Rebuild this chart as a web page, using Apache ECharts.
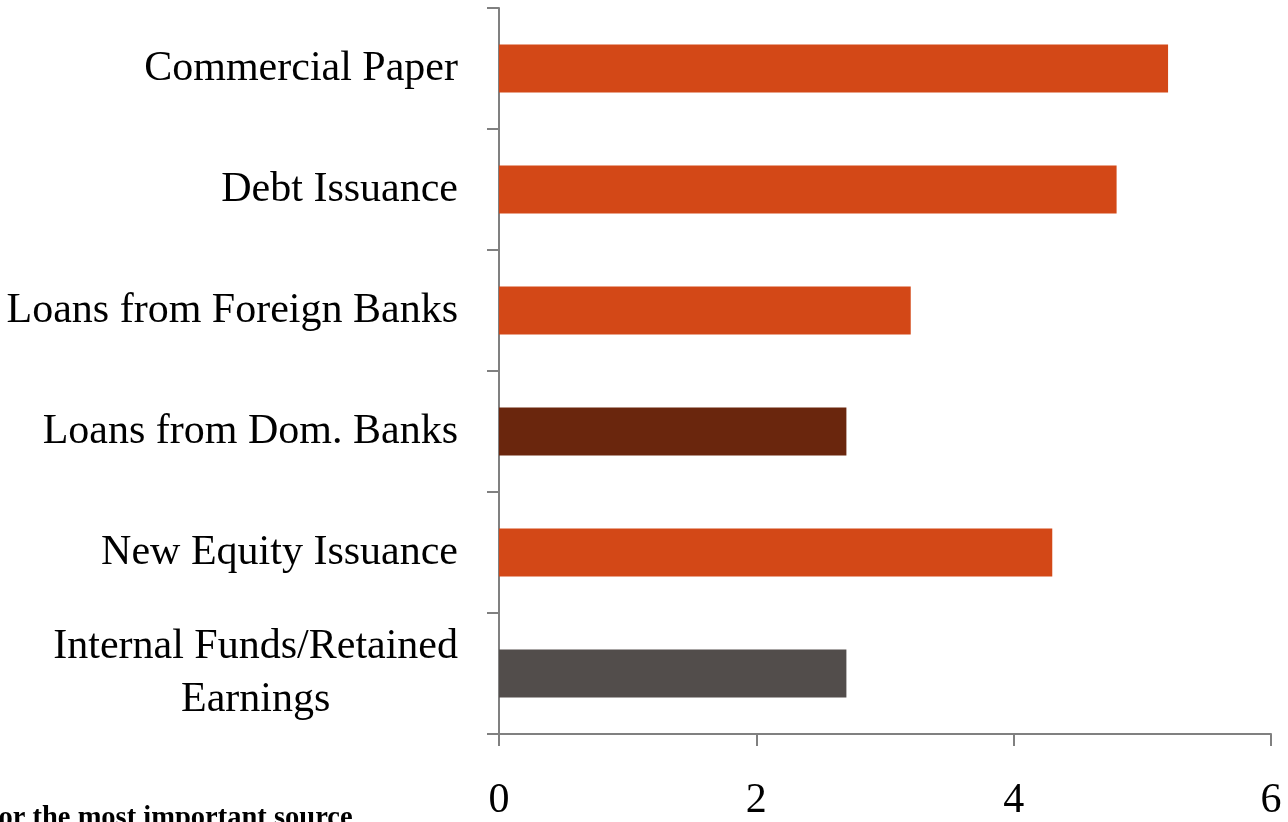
<!DOCTYPE html>
<html>
<head>
<meta charset="utf-8">
<script src="https://cdn.jsdelivr.net/npm/echarts@6/dist/echarts.min.js"></script>
<style>
  html, body { margin: 0; padding: 0; background: #fff; }
  #chart-ctn { width: 1288px; height: 822px; }
</style>
</head>
<body>
<div id="chart-ctn"></div>
<script>
// bottom to top, as the category axis draws them
var categories = ['Internal Funds/Retained Earnings', 'New Equity Issuance', 'Loans from Dom. Banks',
  'Loans from Foreign Banks', 'Debt Issuance', 'Commercial Paper'];
var values = [2.7, 4.3, 2.7, 3.2, 4.8, 5.2];
var barColors = ['#524d4b', '#d34817', '#6a260d', '#d34817', '#d34817', '#d34817'];
var xTicks = [0, 2, 4, 6];

var serif = '"Liberation Serif", "DejaVu Serif", serif';

var chart = echarts.init(document.getElementById('chart-ctn'));

var option = {
  animation: false,
  grid: { left: 499, right: 17, top: 8, bottom: 87 },
  graphic: [{
    type: 'text',
    left: -11,
    top: 804,
    style: { text: 'for the most important source', font: 'bold 28.5px ' + serif, fill: '#000' }
  }],
  xAxis: {
    type: 'value',
    min: xTicks[0],
    max: xTicks[xTicks.length - 1],
    interval: 2,
    splitLine: { show: false },
    axisLine: { show: true, lineStyle: { color: '#808080', width: 2 } },
    axisTick: { show: true, length: 12, lineStyle: { color: '#808080', width: 2 } },
    axisLabel: { color: '#000', fontFamily: serif, fontSize: 42, margin: 46 }
  },
  yAxis: {
    type: 'category',
    data: categories,
    axisLine: { lineStyle: { color: '#808080', width: 2 } },
    axisTick: { show: true, length: 12, lineStyle: { color: '#808080', width: 2 } },
    axisLabel: {
      color: '#000', fontFamily: serif, fontSize: 42, margin: 41,
      formatter: function (v) {
        if (v.indexOf('/Retained') > 0) return '{a|Internal Funds/Retained}\n{b|Earnings}';
        return v;
      },
      rich: {
        a: { fontFamily: serif, fontSize: 42, lineHeight: 53, color: '#000' },
        b: { fontFamily: serif, fontSize: 42, lineHeight: 53, color: '#000', align: 'center' }
      }
    }
  },
  series: [{
    type: 'bar',
    barWidth: 48,
    data: values.map(function (v, i) {
      return { value: v, itemStyle: { color: barColors[i] } };
    })
  }]
};

chart.setOption(option);
</script>
</body>
</html>
